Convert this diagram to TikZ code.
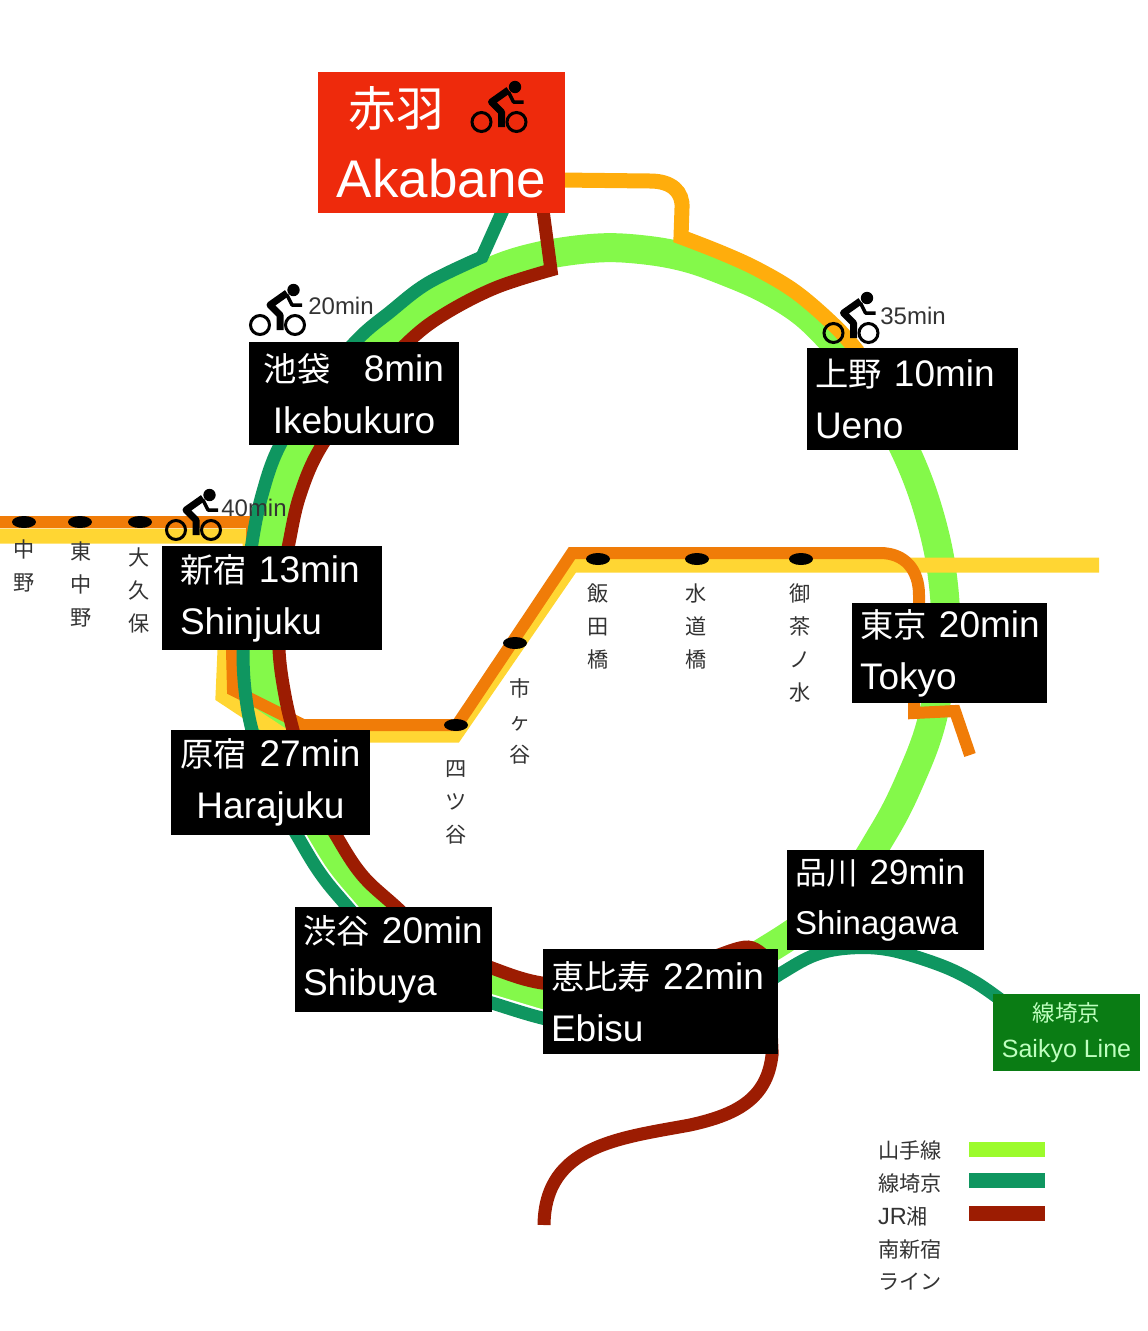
\documentclass[tikz,border=0pt]{standalone}
\usepackage{fontspec}
\setmainfont{Liberation Sans}
\newfontfamily\cjk[Scale=0.9]{Noto Sans CJK JP}
\usetikzlibrary{shapes.geometric}
\definecolor{yamanote}{HTML}{84F94A}
\definecolor{saikyo}{HTML}{0F9660}
\definecolor{shonan}{HTML}{9C1C02}
\definecolor{chuoY}{HTML}{FFD633}
\definecolor{chuoO}{HTML}{F07C08}
\definecolor{amber}{HTML}{FFAD0C}
\definecolor{akared}{HTML}{EE2A0C}
\definecolor{saikyobox}{HTML}{0A7C14}
\definecolor{greytext}{HTML}{333333}
\tikzset{
  railline/.style={line join=miter},
  stationbox/.style 2 args={fill=black,text=white,inner ysep=0pt,inner xsep=0pt,
    minimum width=#1,minimum height=#2,text width=#1-16pt,align=left,
    font=\fontsize{37}{52}\selectfont},
  stopdot/.style={ellipse,fill=black,minimum width=24pt,minimum height=12pt,inner sep=0pt},
  stoplabel/.style={anchor=north,align=center,text=greytext,inner sep=0pt,
    font=\fontsize{23.5}{33}\selectfont\cjk},
  timelabel/.style={text=greytext,inner sep=0pt,font=\fontsize{24}{24}\selectfont},
  legendlabel/.style={anchor=west,text=greytext,inner sep=0pt,font=\fontsize{23.5}{24}\selectfont},
  bike/.pic={
    \draw[line width=3pt,pic actions] (-17.5,0) circle (9.5) (17.5,0) circle (9.5);
    \fill[pic actions] (16,-35) circle (6.2);
    \draw[line width=7pt,line join=round,pic actions] (9.5,-32) -- (-7.5,-20) -- (2.5,-10) -- (2.5,5);
    \draw[line width=3.5pt,line join=round,pic actions] (9.5,-30) -- (14.5,-20) -- (24.5,-20);
  }
}
\begin{document}
\begin{tikzpicture}[x=1pt,y=-1pt]
\useasboundingbox (0,0) rectangle (1148,1331);
% ring
\draw[yamanote,line width=29pt] plot[smooth cycle,tension=0.6] coordinates {(598,248) (645,250) (688,258) (730,273) (766,289) (800,310) (826,334) (850,362) (873,392) (906,452) (928,510) (942,573) (945,640) (932,720) (910,780) (883,833) (840,895) (770,948) (660,1005) (542,1000) (492,985) (425,955) (370,905) (342,873) (317,837) (292,787) (272,730) (261,650) (261,600) (270,543) (282,495) (300,447) (319,417) (340,392) (382,342) (435,303) (490,272) (540,256)};
% chuo lines
\draw[chuoY,line width=15pt,railline] (0,536) -- (250,536) -- (250,548) -- (225,650) -- (223,696) -- (282,735) -- (455,735) -- (572,565) -- (1099,565);
\draw[chuoO,line width=12pt,railline] (0,522) -- (252,522) -- (252,548) -- (232,650) -- (233,690) -- (303,725) -- (457,725) -- (572,553) -- (880,553) .. controls (905,553) and (919,570) .. (919,595) -- (919,650) -- (914,650) -- (914,713) -- (955,711) -- (970,755);
\draw[amber,line width=15pt,railline] (560,180) -- (650,181) .. controls (672,181) and (683,192) .. (682,208) -- (681,237) -- plot[smooth,tension=0.6] coordinates {(681,237) (722,253) (759,270) (797,293) (836,327) (858,352)};
% saikyo and shonan lines
\draw[white,line width=17pt] plot[smooth,tension=0.6] coordinates {(298,837) (320,873) (346,905) (400,965) (450,990) (492,1003) (542,1018)};
\draw[saikyo,line width=13pt,railline] (503,210) -- (482,257) -- plot[smooth,tension=0.6] coordinates {(482,257) (428,283) (390,312) (357,340) (313,392) (279,447) (262,495) (252,543) (245,600) (243,650) (245,690) (252,730) (270,787) (298,837) (320,873) (346,905) (400,965) (450,990) (492,1003) (542,1018) (600,1030) (680,1020) (740,1000) (780,974) (815,955) (850,948) (890,950) (940,965) (975,982) (1005,1003)};
\draw[shonan,line width=13pt,railline] (543,210) -- (551,270) -- plot[smooth,tension=0.6] coordinates {(551,270) (495,288) (443,315) (407,343) (362,392) (321,447) (300,495) (289,543) (279,600) (279,650) (284,690) (293,730) (310,787) (337,837) (362,875) (394,905) (440,945) (492,968) (542,983) (600,985) (660,975) (710,958) (748,947) (768,960)} -- (772,1050) -- (772,1055) .. controls (767,1100) and (735,1115) .. (690,1125) .. controls (620,1138) and (545,1145) .. (544,1225);
% boxes
\node[stationbox={247pt}{141pt},fill=akared,align=center,text width=247pt,font=\fontsize{53}{71}\selectfont] (akabane) at (441.5,142.5) {{\cjk 赤羽}\rule{90pt}{0pt}\\Akabane};
\node[stationbox={210pt}{103pt},align=center] (ikebukuro) at (354,393.5) {{\cjk 池袋　}8min\\Ikebukuro};
\node[stationbox={211pt}{102pt}] (ueno) at (912.5,399) {{\cjk 上野} 10min\\Ueno};
\node[stationbox={220pt}{104pt},text width=184pt] (shinjuku) at (272,598) {{\cjk 新宿} 13min\\Shinjuku};
\node[stationbox={195pt}{100pt}] (tokyo) at (949.5,653) {\mbox{{\cjk 東京} 20min}\\Tokyo};
\node[stationbox={199pt}{105pt},align=center] (harajuku) at (270.5,782.5) {{\cjk 原宿} 27min\\Harajuku};
\node[stationbox={197pt}{100pt},font=\fontsize{35}{50}\selectfont] (shinagawa) at (885.5,900) {{\cjk 品川} 29min\\{\fontsize{33}{50}\selectfont Shinagawa}};
\node[stationbox={197pt}{105pt}] (shibuya) at (393.5,959.5) {{\cjk 渋谷} 20min\\Shibuya};
\node[stationbox={235pt}{105pt}] (ebisu) at (660.5,1001.5) {{\cjk 恵比寿} 22min\\Ebisu};
\node[fill=saikyobox,text=green!25!white,minimum width=147pt,minimum height=77pt,inner sep=0pt,align=center,font=\fontsize{25}{36}\selectfont] (saikyoline) at (1066.5,1032.5) {{\cjk 線埼京}\\Saikyo Line};
% bikes
\path (499,122) pic {bike};
\path (277.5,325) pic {bike};
\path (851,333) pic {bike};
\path (193.5,530) pic {bike};
\node[timelabel] (time20) at (341,306) {20min};
\node[timelabel] (time35) at (913,316) {35min};
\node[timelabel] (time40) at (254,508) {40min};
% stops
\foreach \name/\x/\y in {nakano/24/522,higashi/80/522,okubo/140/522,yotsuya/456/725,ichigaya/515/643,iidabashi/598/559,suidobashi/697/559,ochanomizu/801/559} {
\node[stopdot] (\name) at (\x,\y) {};
}
\node[stoplabel] (nakanotext) at (24,540) {中\\野};
\node[stoplabel] (higashitext) at (81,542) {東\\中\\野};
\node[stoplabel] (okubotext) at (139,548) {大\\久\\保};
\node[stoplabel] (yotsuyatext) at (456,760) {四\\ツ\\谷};
\node[stoplabel] (ichigayatext) at (520,678) {市\\ヶ\\谷};
\node[stoplabel] (iidabashitext) at (598,584) {飯\\田\\橋};
\node[stoplabel] (suidobashitext) at (696,584) {水\\道\\橋};
\node[stoplabel] (ochanomizutext) at (800,584) {御\\茶\\ノ\\水};
% legend
\foreach \name/\y/\txt in {yamanotekey/1150/{\cjk 山手線},saikyokey/1183/{\cjk 線埼京},jrkey/1216/JR{\cjk 湘},nankey/1249/{\cjk 南新宿},linekey/1282/{\cjk ライン}} {
\node[legendlabel] (\name) at (878,\y) {\txt};
}
\fill[yamanote!60!lime] (969,1142) rectangle (1045,1157);
\fill[saikyo] (969,1173) rectangle (1045,1188);
\fill[shonan] (969,1206) rectangle (1045,1221);
\end{tikzpicture}
\end{document}
